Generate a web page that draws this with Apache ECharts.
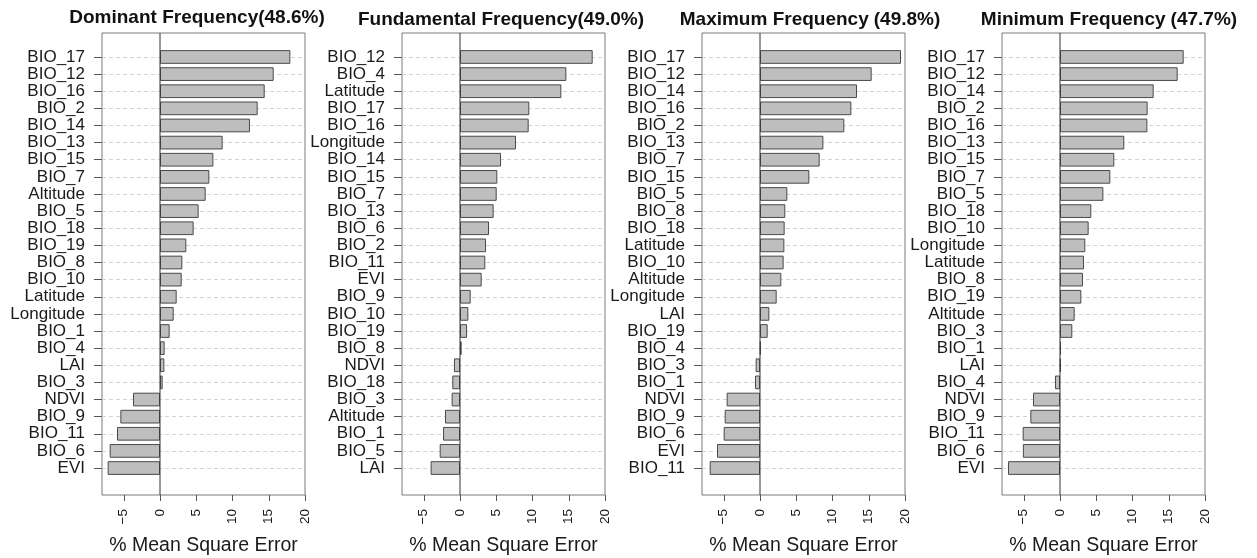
<!DOCTYPE html>
<html>
<head>
<meta charset="utf-8">
<script src="https://cdn.jsdelivr.net/npm/echarts@6/dist/echarts.min.js"></script>
<style>
  html, body { margin: 0; padding: 0; background: #ffffff; }
  #chart { width: 1257px; height: 558px; }
</style>
</head>
<body>
<div id="chart"></div>
<script>
// Variable importance (% increase in mean square error) for four frequency models
const dominantNames = ['BIO_17','BIO_12','BIO_16','BIO_2','BIO_14','BIO_13','BIO_15','BIO_7','Altitude','BIO_5','BIO_18','BIO_19','BIO_8','BIO_10','Latitude','Longitude','BIO_1','BIO_4','LAI','BIO_3','NDVI','BIO_9','BIO_11','BIO_6','EVI'];
const dominantValues = [17.98,15.68,14.44,13.47,12.41,8.64,7.36,6.80,6.30,5.33,4.64,3.63,3.08,2.99,2.30,1.89,1.33,0.64,0.60,0.37,-3.72,-5.47,-5.93,-6.94,-7.22];

const fundamentalNames = ['BIO_12','BIO_4','Latitude','BIO_17','BIO_16','Longitude','BIO_14','BIO_15','BIO_7','BIO_13','BIO_6','BIO_2','BIO_11','EVI','BIO_9','BIO_10','BIO_19','BIO_8','NDVI','BIO_18','BIO_3','Altitude','BIO_1','BIO_5','LAI'];
const fundamentalValues = [18.30,14.67,13.98,9.56,9.47,7.72,5.66,5.15,5.06,4.64,4.00,3.59,3.49,2.99,1.47,1.15,0.97,0.23,-0.83,-1.06,-1.15,-2.07,-2.34,-2.80,-4.05];

const maximumNames = ['BIO_17','BIO_12','BIO_14','BIO_16','BIO_2','BIO_13','BIO_7','BIO_15','BIO_5','BIO_8','BIO_18','Latitude','BIO_10','Altitude','Longitude','LAI','BIO_19','BIO_4','BIO_3','BIO_1','NDVI','BIO_9','BIO_6','EVI','BIO_11'];
const maximumValues = [19.45,15.40,13.38,12.60,11.63,8.74,8.23,6.80,3.77,3.49,3.40,3.36,3.26,2.94,2.30,1.29,1.06,0.09,-0.60,-0.69,-4.60,-4.87,-5.01,-5.93,-6.94];

const minimumNames = ['BIO_17','BIO_12','BIO_14','BIO_2','BIO_16','BIO_13','BIO_15','BIO_7','BIO_5','BIO_18','BIO_10','Longitude','Latitude','BIO_8','BIO_19','Altitude','BIO_3','BIO_1','LAI','BIO_4','NDVI','BIO_9','BIO_11','BIO_6','EVI'];
const minimumValues = [17.06,16.23,12.92,12.09,12.05,8.87,7.49,6.94,5.98,4.32,3.95,3.49,3.31,3.17,2.94,2.02,1.70,0.14,0.09,-0.69,-3.72,-4.09,-5.15,-5.12,-7.17];

const panelTitles = ['Dominant Frequency', 'Fundamental Frequency', 'Maximum Frequency', 'Minimum Frequency'];
const panelShares = ['(48.6%)', '(49.0%)', '(49.8%)', '(47.7%)'];
const xTickValues = [-5, 0, 5, 10, 15, 20];
const xRange = [-8, 20];
const xAxisTitle = '% Mean Square Error';

const panels = [
  { names: dominantNames, values: dominantValues },
  { names: fundamentalNames, values: fundamentalValues },
  { names: maximumNames, values: maximumValues },
  { names: minimumNames, values: minimumValues }
];

// layout of each panel's plot box
const boxLefts = [102, 402, 702, 1002];
const boxWidth = 203;
const boxTop = 33, boxBottom = 495;
const barsTop = 48.4, barsBottom = 476.6;
const titleCenters = [197, 501, 810, 1109];
const titleTops = [8, 10.5, 10.5, 10.5];
const titleSpace = [false, false, true, true];
const font = 'Liberation Sans, Arial, Helvetica, sans-serif';

const grid = [], xAxis = [], yAxis = [], series = [], title = [];

panels.forEach((p, i) => {
  const left = boxLefts[i];
  const frameIdx = i * 2, barIdx = i * 2 + 1;

  // outer box with the zero reference line
  grid.push({ left: left, top: boxTop, width: boxWidth, height: boxBottom - boxTop,
    outerBoundsMode: 'none', containLabel: false,
    show: true, borderColor: '#7a7a7a', borderWidth: 1, backgroundColor: 'transparent' });
  // bar area, inset vertically inside the box
  grid.push({ left: left, top: barsTop, width: boxWidth, height: barsBottom - barsTop,
    outerBoundsMode: 'none', containLabel: false });

  xAxis.push({ gridIndex: frameIdx, type: 'value', min: xRange[0], max: xRange[1], show: false });
  yAxis.push({ gridIndex: frameIdx, type: 'value', min: 0, max: 1, show: false });

  xAxis.push({
    gridIndex: barIdx, type: 'value', min: xRange[0], max: xRange[1],
    position: 'bottom', offset: boxBottom - barsBottom,
    axisLine: { show: false, onZero: false },
    splitLine: { show: false },
    axisTick: { show: true, length: 6, customValues: xTickValues, lineStyle: { color: '#555', width: 1 } },
    axisLabel: {
      customValues: xTickValues, rotate: 90, margin: 14,
      fontSize: 13.5, fontFamily: font, color: '#1a1a1a',
      formatter: v => String(v).replace('-', '\u2212')
    },
    name: xAxisTitle, nameLocation: 'middle', nameGap: 41, nameMoveOverlap: false,
    nameTextStyle: { fontSize: 19.5, fontFamily: font, color: '#1a1a1a' }
  });
  yAxis.push({
    gridIndex: barIdx, type: 'category', data: p.names, inverse: true,
    position: 'left',
    axisLine: { show: false, onZero: false },
    axisTick: { show: true, alignWithLabel: true, length: 8, lineStyle: { color: '#555', width: 1 } },
    axisLabel: { fontSize: 17, fontFamily: font, color: '#1a1a1a', margin: 17, interval: 0 },
    splitLine: { show: true, alignWithLabel: true, interval: 0,
      lineStyle: { color: '#d4d4d4', type: [4, 3], width: 1 } }
  });

  series.push({
    type: 'bar', xAxisIndex: barIdx, yAxisIndex: barIdx,
    data: p.values, barCategoryGap: '20%', silent: true,
    itemStyle: { color: '#bebebe', borderColor: '#4a4a4a', borderWidth: 1 },
    z: 3
  });
  series.push({
    type: 'line', xAxisIndex: frameIdx, yAxisIndex: frameIdx,
    data: [[0, 0], [0, 1]], symbol: 'none', silent: true,
    lineStyle: { color: '#333', width: 1 }, z: 5
  });

  title.push({
    text: '{m|' + panelTitles[i] + '}' + (titleSpace[i] ? ' ' : '') + '{p|' + panelShares[i] + '}',
    left: titleCenters[i], top: titleTops[i], textAlign: 'center', padding: 0,
    textStyle: {
      rich: {
        m: { fontSize: 19, fontWeight: 'bold', fontFamily: font, color: '#111' },
        p: { fontSize: 19, fontWeight: 'bold', fontFamily: font, color: '#111' }
      }
    }
  });
});

const chart = echarts.init(document.getElementById('chart'), null, { renderer: 'canvas' });
chart.setOption({
  backgroundColor: '#ffffff',
  animation: false,
  title: title,
  grid: grid,
  xAxis: xAxis,
  yAxis: yAxis,
  series: series
});
</script>
</body>
</html>
